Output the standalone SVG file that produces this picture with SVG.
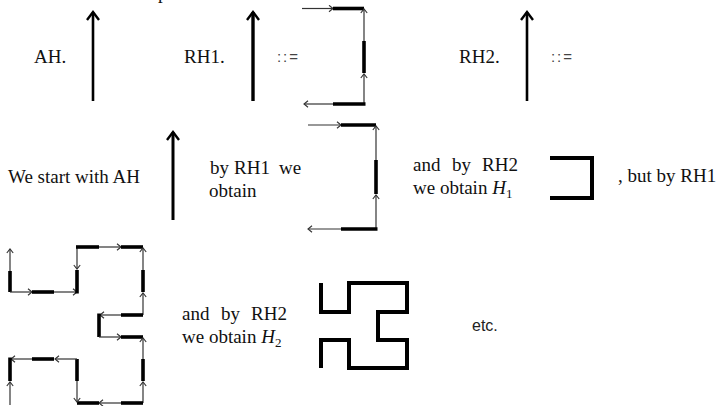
<svg xmlns="http://www.w3.org/2000/svg" width="720" height="406" viewBox="0 0 720 406">
  <style>
    .t { font-family: "Liberation Serif", "Times New Roman", serif; font-size: 19px; fill: #111; }
    .it { font-style: italic; }
    .sub { font-size: 13px; }
    .def { font-family: "Liberation Sans", Arial, sans-serif; font-size: 15px; fill: #444; }
    .etc { font-family: "Liberation Sans", Arial, sans-serif; font-size: 16px; fill: #222; }
    .axiom { stroke: #000; stroke-width: 2.6; fill: none; marker-end: url(#bigHead); }
    .thin { stroke: #333; stroke-width: 1.2; fill: none; }
    .arr { marker-end: url(#smallHead); }
    .thick { stroke: #000; stroke-width: 3.6; fill: none; }
    .curve { stroke: #000; stroke-width: 4; fill: none; stroke-linejoin: miter; }
  </style>
  <defs>
    <marker id="bigHead" viewBox="0 0 16 16" refX="14" refY="8" markerWidth="16" markerHeight="16" markerUnits="userSpaceOnUse" orient="auto">
      <path d="M6,2 L14,8 L6,14" fill="none" stroke="#000" stroke-width="2.4"/>
    </marker>
    <marker id="smallHead" viewBox="0 0 10 10" refX="9" refY="5" markerWidth="8" markerHeight="8" markerUnits="userSpaceOnUse" orient="auto">
      <path d="M4,1 L9,5 L4,9" fill="none" stroke="#333" stroke-width="1.4"/>
    </marker>
  </defs>

  <!-- clipped line remnant at the very top -->
  <text class="t" x="158" y="-1">p</text>

  <!-- row 1: axiom and rewrite rules -->
  <g id="axiom-label"><text class="t" x="34" y="63">AH.</text></g>
  <g id="axiom-arrow"><line class="axiom" x1="93" y1="101" x2="93" y2="12"/></g>

  <g id="rh1-label"><text class="t" x="184" y="63">RH1.</text></g>
  <g id="rh1-arrow"><line class="axiom" x1="253" y1="101" x2="253" y2="12" style="stroke-width:3.4"/></g>
  <g id="rh1-def"><text class="def" x="277" y="62" textLength="21" lengthAdjust="spacing">::=</text></g>
  <g id="rh1-rule">
    <line class="thin arr" x1="302" y1="8.5" x2="333" y2="8.5"/>
    <line class="thick" x1="333" y1="8.5" x2="364" y2="8.5"/>
    <line class="thin arr" x1="364" y1="41" x2="364" y2="9"/>
    <line class="thick" x1="364" y1="41" x2="364" y2="73"/>
    <line class="thin arr" x1="364" y1="104" x2="364" y2="74"/>
    <line class="thick" x1="333" y1="104" x2="365.5" y2="104"/>
    <line class="thin arr" x1="333" y1="104" x2="304" y2="104"/>
  </g>

  <g id="rh2-label"><text class="t" x="459" y="63">RH2.</text></g>
  <g id="rh2-arrow"><line class="axiom" x1="527" y1="101" x2="527" y2="12"/></g>
  <g id="rh2-def"><text class="def" x="551" y="62" textLength="21" lengthAdjust="spacing">::=</text></g>

  <!-- row 2: first derivation steps -->
  <g id="start-text"><text class="t" x="8" y="183">We start with AH</text></g>
  <g id="start-arrow"><line class="axiom" x1="173" y1="220" x2="173" y2="132" style="stroke-width:3"/></g>

  <g id="step1-text">
    <text class="t" y="174"><tspan x="210">by</tspan><tspan x="234">RH1</tspan><tspan x="279">we</tspan></text>
    <text class="t" x="209" y="197">obtain</text>
  </g>
  <g id="step1-rule">
    <line class="thin arr" x1="308" y1="125" x2="341" y2="125"/>
    <line class="thick" x1="341" y1="125" x2="376" y2="125"/>
    <line class="thin arr" x1="376" y1="160" x2="376" y2="126"/>
    <line class="thick" x1="376" y1="160" x2="376" y2="194"/>
    <line class="thin arr" x1="376" y1="229" x2="376" y2="195"/>
    <line class="thick" x1="341" y1="229" x2="377.5" y2="229"/>
    <line class="thin arr" x1="341" y1="229" x2="308" y2="229"/>
  </g>

  <g id="step2-text">
    <text class="t" y="171"><tspan x="413">and</tspan><tspan x="452">by</tspan><tspan x="482">RH2</tspan></text>
    <text class="t" x="413" y="194">we obtain <tspan class="it">H</tspan><tspan class="sub" dy="4">1</tspan></text>
  </g>
  <g id="h1-curve"><path class="curve" d="M550,158 H592 V198 H550"/></g>

  <g id="step3-text"><text class="t" x="618" y="182">, but by RH1</text></g>

  <!-- row 3: second order expansion -->
  <g id="step3-rule">
    <!-- left column, upper part -->
    <line class="thin arr" x1="10" y1="271" x2="10" y2="249"/>
    <line class="thick" x1="10" y1="271" x2="10" y2="292"/>
    <line class="thin arr" x1="10" y1="292" x2="32" y2="292"/>
    <line class="thick" x1="32" y1="292" x2="54" y2="292"/>
    <line class="thin arr" x1="54" y1="292" x2="77" y2="292"/>
    <line class="thick" x1="77" y1="293.5" x2="77" y2="270"/>
    <line class="thin arr" x1="77" y1="247" x2="77" y2="269"/>
    <!-- top edge -->
    <line class="thick" x1="76" y1="247" x2="99" y2="247"/>
    <line class="thin arr" x1="99" y1="247" x2="121" y2="247"/>
    <line class="thick" x1="121" y1="247" x2="143" y2="247"/>
    <!-- right column, upper part -->
    <line class="thin arr" x1="143" y1="270" x2="143" y2="248"/>
    <line class="thick" x1="143" y1="270" x2="143" y2="292"/>
    <line class="thin arr" x1="143" y1="315" x2="143" y2="293"/>
    <line class="thick" x1="121" y1="315" x2="143" y2="315"/>
    <line class="thin arr" x1="121" y1="315" x2="100" y2="315"/>
    <!-- notch -->
    <line class="thick" x1="99" y1="313.5" x2="99" y2="337"/>
    <line class="thin arr" x1="99" y1="337" x2="121" y2="337"/>
    <line class="thick" x1="121" y1="337" x2="143" y2="337"/>
    <!-- right column, lower part -->
    <line class="thin arr" x1="143" y1="359" x2="143" y2="338"/>
    <line class="thick" x1="143" y1="359" x2="143" y2="381"/>
    <line class="thin arr" x1="143" y1="403" x2="143" y2="382"/>
    <!-- bottom edge -->
    <line class="thick" x1="121" y1="403" x2="143" y2="403"/>
    <line class="thin arr" x1="121" y1="403" x2="99" y2="403"/>
    <line class="thick" x1="77" y1="403" x2="99" y2="403"/>
    <!-- left column, lower part -->
    <line class="thin arr" x1="77" y1="381" x2="77" y2="402"/>
    <line class="thick" x1="77" y1="359" x2="77" y2="381"/>
    <line class="thin arr" x1="77" y1="359" x2="55" y2="359"/>
    <line class="thick" x1="32" y1="359" x2="54" y2="359"/>
    <line class="thin arr" x1="32" y1="359" x2="11" y2="359"/>
    <line class="thick" x1="10" y1="357.5" x2="10" y2="381"/>
    <line class="thin arr" x1="10" y1="405" x2="10" y2="382"/>
  </g>

  <g id="step4-text">
    <text class="t" y="320"><tspan x="182">and</tspan><tspan x="221">by</tspan><tspan x="251">RH2</tspan></text>
    <text class="t" x="182" y="343">we obtain <tspan class="it">H</tspan><tspan class="sub" dy="4">2</tspan></text>
  </g>
  <g id="h2-curve"><path class="curve" d="M321,283 V312 H349 V283 H407 V312 H378 V340 H407 V368 H349 V340 H321 V368"/></g>

  <g id="etc-text"><text class="etc" x="472" y="331">etc.</text></g>
</svg>
